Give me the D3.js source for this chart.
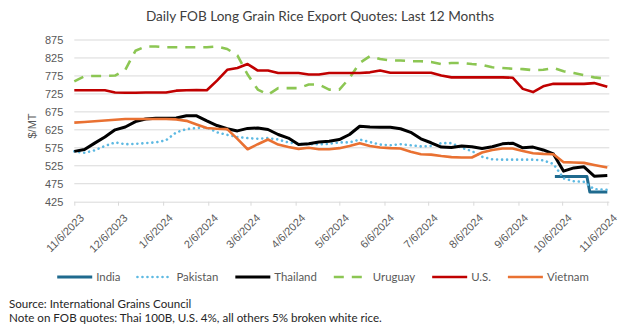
<!DOCTYPE html>
<html>
 <head>
  <title>Daily FOB Long Grain Rice Export Quotes</title>
  <style>
  body {
   margin: 0;
   background: #fff;
  }
  svg {
   display: block;
  }
  </style>
 </head>
 <body>
  <script src="https://cdnjs.cloudflare.com/ajax/libs/d3/7.8.5/d3.min.js"></script>
  <script>
   // weekly quotes, $/MT
   const dates = ["2023-11-06","2023-11-13","2023-11-20","2023-11-27","2023-12-04","2023-12-11","2023-12-18","2023-12-25",
    "2024-01-01","2024-01-08","2024-01-15","2024-01-22","2024-01-29","2024-02-05","2024-02-12","2024-02-19","2024-02-26",
    "2024-03-04","2024-03-11","2024-03-18","2024-03-25","2024-04-01","2024-04-08","2024-04-15","2024-04-22","2024-04-29",
    "2024-05-06","2024-05-13","2024-05-20","2024-05-27","2024-06-03","2024-06-10","2024-06-17","2024-06-24",
    "2024-07-01","2024-07-08","2024-07-15","2024-07-22","2024-07-29","2024-08-05","2024-08-12","2024-08-19","2024-08-26",
    "2024-09-02","2024-09-09","2024-09-16","2024-09-23","2024-09-30","2024-10-07","2024-10-14","2024-10-21","2024-10-28","2024-11-06"];
   const pakistan = [565,561,568,580,590,585,586,588,590,596,618,627,630,632,618,611,605,602,600,602,598,590,586,585,585,586,
    590,590,598,591,584,582,585,582,579,580,588,588,575,566,550,543,542,542,542,542,540,530,490,482,480,460,458];
   const thailand = [565,570,588,605,625,633,648,655,657,657,658,664,664,650,637,628,622,629,630,626,612,602,584,586,591,593,
    598,612,635,633,632,632,628,618,600,589,577,576,580,578,573,578,586,588,575,577,569,558,510,519,522,496,498];
   const uruguay = [760,774,775,775,776,792,845,857,857,855,855,855,855,855,857,850,832,779,737,723,741,741,741,751,751,737,
    737,769,811,830,822,818,818,816,816,814,808,811,811,808,806,799,797,795,794,791,792,797,788,783,777,771,767];
   const us = [735,735,735,735,729,728,728,729,729,729,734,735,736,735,762,792,797,808,790,790,783,783,783,779,779,783,
    783,783,783,785,790,784,784,784,784,784,776,771,771,771,771,771,771,770,739,730,746,753,753,753,753,755,745];
   const vietnam = [645,647,649,651,653,655,655,655,655,655,654,650,640,630,628,627,600,571,585,598,584,577,572,575,571,571,
    574,580,588,580,576,574,573,564,557,556,552,549,548,548,562,569,573,573,566,560,558,557,535,534,533,527,520];
   // India only quoted from October
   const indiaDates = ["2024-10-01","2024-10-23","2024-10-25","2024-11-06"];
   const india = [495,495,452,452];

   const seriesNames = ["India","Pakistan","Thailand","Uruguay","U.S.","Vietnam"];
   const seriesColors = ["#1F6A8E","#5DB9E2","#000000","#8CC653","#C00000","#E97132"];
   const yTicks = [425,475,525,575,625,675,725,775,825,875];
   const xTicks = ["2023-11-06","2023-12-06","2024-01-06","2024-02-06","2024-03-06","2024-04-06","2024-05-06",
    "2024-06-06","2024-07-06","2024-08-06","2024-09-06","2024-10-06","2024-11-06"];

   const w = 630;
   const h = 335;
   const plotLeft = 74.3, plotRight = 607.3, plotTop = 40, plotBottom = 201.7;
   const parse = d3.timeParse("%Y-%m-%d");
   const fmt = d3.timeFormat("%-m/%-d/%Y");

   const svg = d3.select("body")
                 .append("svg")
                 .attr("width", w)
                 .attr("height", h);

   const xScale = d3.scaleTime()
                    .domain([parse(xTicks[0]), parse(xTicks[xTicks.length - 1])])
                    .range([plotLeft, plotRight]);
   const yScale = d3.scaleLinear()
                    .domain([425, 875])
                    .range([plotBottom, plotTop]);

   svg.append("text")
      .attr("x", 320)
      .attr("y", 21)
      .attr("text-anchor", "middle")
      .style("font-family", "Lato, sans-serif")
      .style("font-size", "13.6px")
      .style("fill", "#404040")
      .text("Daily FOB Long Grain Rice Export Quotes: Last 12 Months");

   // gridlines
   svg.append("g")
      .selectAll("line")
      .data(yTicks.slice(1))
      .enter()
      .append("line")
      .attr("x1", plotLeft)
      .attr("x2", plotRight + 2)
      .attr("y1", d => yScale(d))
      .attr("y2", d => yScale(d))
      .attr("stroke", "#D9D9D9")
      .attr("stroke-width", 1);

   const yAxis = d3.axisLeft(yScale).tickValues(yTicks).tickSize(0).tickPadding(11);
   const gy = svg.append("g")
      .attr("id", "y-axis")
      .attr("transform", "translate(" + plotLeft + ",0)")
      .call(yAxis);
   gy.select(".domain").remove();
   gy.selectAll("text")
     .style("font-family", "'Liberation Sans', Arial, sans-serif")
     .style("font-size", "11px")
     .style("fill", "#595959");

   const xAxis = d3.axisBottom(xScale)
                   .tickValues(xTicks.map(parse))
                   .tickFormat(fmt)
                   .tickSize(4)
                   .tickSizeOuter(0);
   const gx = svg.append("g")
      .attr("id", "x-axis")
      .attr("transform", "translate(0," + plotBottom + ")")
      .call(xAxis);
   gx.select(".domain").attr("stroke", "#D9D9D9").attr("d", "M" + plotLeft + ",0.5H" + (plotRight + 2));
   gx.selectAll("line").attr("stroke", "#D9D9D9");
   gx.selectAll("text")
     .attr("text-anchor", "end")
     .attr("dx", 0)
     .attr("dy", 0)
     .attr("transform", "translate(5,12) rotate(-45)")
     .style("font-family", "'Liberation Sans', Arial, sans-serif")
     .style("font-size", "11px")
     .style("fill", "#595959");

   svg.append("text")
      .attr("transform", "translate(36,126) rotate(-90)")
      .attr("text-anchor", "middle")
      .style("font-family", "'Liberation Sans', Arial, sans-serif")
      .style("font-size", "11px")
      .style("fill", "#595959")
      .text("$/MT");

   const styles = [
    {width: 3, dash: null, cap: "butt"},
    {width: 2.6, dash: "0.01 5", cap: "round"},
    {width: 3, dash: null, cap: "butt"},
    {width: 2.6, dash: "10 8", cap: "butt"},
    {width: 2.6, dash: null, cap: "butt"},
    {width: 2.6, dash: null, cap: "butt"}
   ];

   const series = [
    indiaDates.map((d, i) => [parse(d), india[i]]),
    dates.map((d, i) => [parse(d), pakistan[i]]),
    dates.map((d, i) => [parse(d), thailand[i]]),
    dates.map((d, i) => [parse(d), uruguay[i]]),
    dates.map((d, i) => [parse(d), us[i]]),
    dates.map((d, i) => [parse(d), vietnam[i]])
   ];

   const line = d3.line()
                  .x(d => xScale(d[0]))
                  .y(d => yScale(d[1]));

   series.forEach((s, i) => {
    svg.append("path")
       .datum(s)
       .attr("class", "line")
       .attr("d", line)
       .attr("fill", "none")
       .attr("stroke", seriesColors[i])
       .attr("stroke-width", styles[i].width)
       .attr("stroke-dasharray", styles[i].dash)
       .attr("stroke-linecap", styles[i].cap)
       .attr("stroke-linejoin", "round");
   });

   // legend, centred under the plot
   const legend = svg.append("g").attr("transform", "translate(0,277)");
   const items = legend.selectAll("g")
      .data(seriesNames)
      .enter()
      .append("g");
   items.append("line")
        .attr("x1", 0)
        .attr("x2", 35)
        .attr("stroke", (d, i) => seriesColors[i])
        .attr("stroke-width", (d, i) => styles[i].width)
        .attr("stroke-dasharray", (d, i) => styles[i].dash)
        .attr("stroke-linecap", (d, i) => styles[i].cap);
   items.append("text")
        .attr("x", 39)
        .attr("y", 4)
        .style("font-family", "Lato, sans-serif")
        .style("font-size", "11.4px")
        .style("fill", "#595959")
        .text(d => d);
   let xPos = 0;
   const starts = [];
   items.each(function(d, i) {
    starts.push(xPos);
    xPos += 39 + this.querySelector("text").getComputedTextLength() + 17;
   });
   const total = xPos - 17;
   const x0 = 323 - total / 2;
   items.attr("transform", (d, i) => "translate(" + (x0 + starts[i]) + ",0)");

   const notes = ["Source: International Grains Council",
    "Note on FOB quotes: Thai 100B, U.S. 4%, all others 5% broken white rice."];
   svg.selectAll(".note")
      .data(notes)
      .enter()
      .append("text")
      .attr("class", "note")
      .attr("x", 9)
      .attr("y", (d, i) => 308 + i * 14)
      .style("font-family", "Lato, sans-serif")
      .style("font-size", "11.6px")
      .style("fill", "#262626")
      .text(d => d);
  </script>
 </body>
</html>
